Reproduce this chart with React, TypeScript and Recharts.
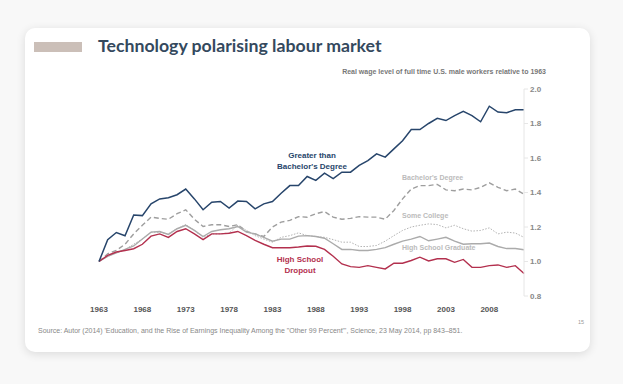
import React from 'react';
import { LineChart, Line, XAxis, YAxis } from 'recharts';

// Years 1963–2012
const years = [
  1963, 1964, 1965, 1966, 1967, 1968, 1969, 1970, 1971, 1972,
  1973, 1974, 1975, 1976, 1977, 1978, 1979, 1980, 1981, 1982,
  1983, 1984, 1985, 1986, 1987, 1988, 1989, 1990, 1991, 1992,
  1993, 1994, 1995, 1996, 1997, 1998, 1999, 2000, 2001, 2002,
  2003, 2004, 2005, 2006, 2007, 2008, 2009, 2010, 2011, 2012,
];

const greaterThanBachelor = [
  1.0, 1.126, 1.168, 1.149, 1.27, 1.266, 1.334, 1.363, 1.37, 1.387,
  1.42, 1.363, 1.3, 1.344, 1.348, 1.31, 1.35, 1.348, 1.305, 1.334,
  1.348, 1.396, 1.44, 1.44, 1.493, 1.47, 1.512, 1.48, 1.518, 1.518,
  1.557, 1.585, 1.624, 1.605, 1.653, 1.7, 1.765, 1.765, 1.8, 1.83,
  1.817, 1.846, 1.87, 1.846, 1.81, 1.9, 1.866, 1.862, 1.88, 1.88,
];

const bachelors = [
  1.0, 1.045, 1.064, 1.1, 1.16, 1.21, 1.257, 1.25, 1.245, 1.277,
  1.3, 1.245, 1.203, 1.213, 1.213, 1.203, 1.213, 1.174, 1.16, 1.145,
  1.2, 1.228, 1.238, 1.26, 1.257, 1.277, 1.29, 1.257, 1.245, 1.25,
  1.26, 1.257, 1.257, 1.245, 1.296, 1.363, 1.42, 1.44, 1.44, 1.447,
  1.415, 1.41, 1.42, 1.415, 1.43, 1.456, 1.43, 1.41, 1.42, 1.39,
];

const someCollege = [
  1.0, 1.03, 1.05, 1.07, 1.1, 1.13, 1.17, 1.17, 1.16, 1.19,
  1.214, 1.18, 1.14, 1.16, 1.16, 1.165, 1.21, 1.18, 1.15, 1.13,
  1.112, 1.14, 1.15, 1.166, 1.15, 1.145, 1.14, 1.127, 1.112, 1.112,
  1.087, 1.087, 1.093, 1.118, 1.15, 1.18, 1.2, 1.21, 1.218, 1.214,
  1.195, 1.21, 1.19, 1.176, 1.18, 1.195, 1.16, 1.17, 1.165, 1.14,
];

const highSchoolGraduate = [
  1.0, 1.03, 1.05, 1.07, 1.09, 1.13, 1.17, 1.174, 1.157, 1.19,
  1.21, 1.18, 1.145, 1.174, 1.184, 1.19, 1.203, 1.17, 1.16, 1.14,
  1.118, 1.13, 1.13, 1.147, 1.15, 1.145, 1.135, 1.103, 1.07, 1.07,
  1.064, 1.064, 1.07, 1.08, 1.1, 1.118, 1.13, 1.145, 1.12, 1.13,
  1.14, 1.118, 1.1, 1.103, 1.103, 1.107, 1.087, 1.075, 1.075, 1.068,
];

const highSchoolDropout = [
  1.0, 1.035, 1.055, 1.064, 1.074, 1.1, 1.147, 1.16, 1.14, 1.174,
  1.19, 1.16, 1.127, 1.16, 1.16, 1.164, 1.174, 1.15, 1.122, 1.1,
  1.08, 1.08, 1.08, 1.084, 1.09, 1.088, 1.07, 1.03, 0.986, 0.97,
  0.966, 0.976, 0.966, 0.957, 0.99, 0.99, 1.006, 1.025, 1.003, 1.016,
  1.016, 0.995, 1.012, 0.966, 0.966, 0.976, 0.98, 0.966, 0.976, 0.93,
];

const xTicks = [1963, 1968, 1973, 1978, 1983, 1988, 1993, 1998, 2003, 2008];
const yTicks = [0.8, 1.0, 1.2, 1.4, 1.6, 1.8, 2.0];

const data = years.map((year, i) => ({
  year,
  gtb: greaterThanBachelor[i],
  ba: bachelors[i],
  sc: someCollege[i],
  hsg: highSchoolGraduate[i],
  hsd: highSchoolDropout[i],
}));

const font = '"Liberation Sans", Arial, sans-serif';

const App = () => {
  return (
    <div style={{ position: 'absolute', left: 0, top: 0, width: 623, height: 384, background: '#f8f8f8', overflow: 'hidden', fontFamily: font }}>
      {/* card */}
      <div style={{ position: 'absolute', left: 25, top: 28, width: 565, height: 324, background: '#fff', borderRadius: 10, boxShadow: '0 2px 10px rgba(0,0,0,0.12)' }} />
      <div style={{ position: 'absolute', left: 34, top: 42, width: 48, height: 10, background: '#cbbfb8' }} />
      <div style={{ position: 'absolute', left: 98, top: 35, fontFamily: 'Lato, sans-serif', fontWeight: 700, fontSize: 17.7, color: '#34495e', whiteSpace: 'nowrap' }}>
        Technology polarising labour market
      </div>
      <div style={{ position: 'absolute', right: 623 - 546, top: 68, fontSize: 7, fontWeight: 700, color: '#777', whiteSpace: 'nowrap' }}>
        Real wage level of full time U.S. male workers relative to 1963
      </div>

      <div style={{ position: 'absolute', left: 0, top: 0 }}>
        <LineChart width={623} height={384} data={data} margin={{ top: 89, right: 59, bottom: 68, left: 99 }}>
          <XAxis
            dataKey="year"
            type="number"
            domain={[1963, 2012]}
            ticks={xTicks}
            axisLine={false}
            tickLine={false}
            height={20}
            tick={{ fontSize: 8, fontWeight: 700, fill: '#555', fontFamily: font }}
            tickMargin={4}
          />
          <YAxis
            orientation="right"
            domain={[0.8, 2.0]}
            ticks={yTicks}
            width={40}
            axisLine={{ stroke: '#e6e6e6' }}
            tickLine={{ stroke: '#e6e6e6' }}
            tickSize={4}
            tickFormatter={(v) => v.toFixed(1)}
            tick={{ fontSize: 8, fontWeight: 700, fill: '#888', fontFamily: font }}
          />
          <Line dataKey="ba" stroke="#9e9e9e" strokeWidth={1.4} strokeDasharray="5 3" dot={false} isAnimationActive={false} />
          <Line dataKey="sc" stroke="#b3b3b3" strokeWidth={1} strokeDasharray="1.5 1.5" dot={false} isAnimationActive={false} />
          <Line dataKey="hsg" stroke="#ababab" strokeWidth={1.4} dot={false} isAnimationActive={false} />
          <Line dataKey="hsd" stroke="#b3304e" strokeWidth={1.4} dot={false} isAnimationActive={false} />
          <Line dataKey="gtb" stroke="#27456b" strokeWidth={1.5} dot={false} isAnimationActive={false} />
        </LineChart>
      </div>

      {/* series labels */}
      <div style={{ position: 'absolute', left: 262, top: 150, width: 100, textAlign: 'center', fontSize: 8, fontWeight: 700, color: '#27456b', lineHeight: '11px' }}>
        Greater than<br />Bachelor's Degree
      </div>
      <div style={{ position: 'absolute', left: 402, top: 174, fontSize: 7, fontWeight: 700, color: '#bbb', whiteSpace: 'nowrap' }}>
        Bachelor's Degree
      </div>
      <div style={{ position: 'absolute', left: 402, top: 212, fontSize: 7, fontWeight: 700, color: '#bbb', whiteSpace: 'nowrap' }}>
        Some College
      </div>
      <div style={{ position: 'absolute', left: 402, top: 244, fontSize: 7, fontWeight: 700, color: '#bbb', whiteSpace: 'nowrap' }}>
        High School Graduate
      </div>
      <div style={{ position: 'absolute', left: 250, top: 254, width: 100, textAlign: 'center', fontSize: 8, fontWeight: 700, color: '#b3304e', lineHeight: '11px' }}>
        High School<br />Dropout
      </div>

      <div style={{ position: 'absolute', left: 38, top: 327, fontSize: 7, color: '#888', whiteSpace: 'nowrap' }}>
        Source:  Autor (2014) 'Education, and the Rise of Earnings Inequality Among the "Other 99 Percent"', Science, 23 May 2014, pp 843–851.
      </div>
      <div style={{ position: 'absolute', left: 578, top: 319, fontSize: 5.5, color: '#999' }}>15</div>
    </div>
  );
};

export default App;
